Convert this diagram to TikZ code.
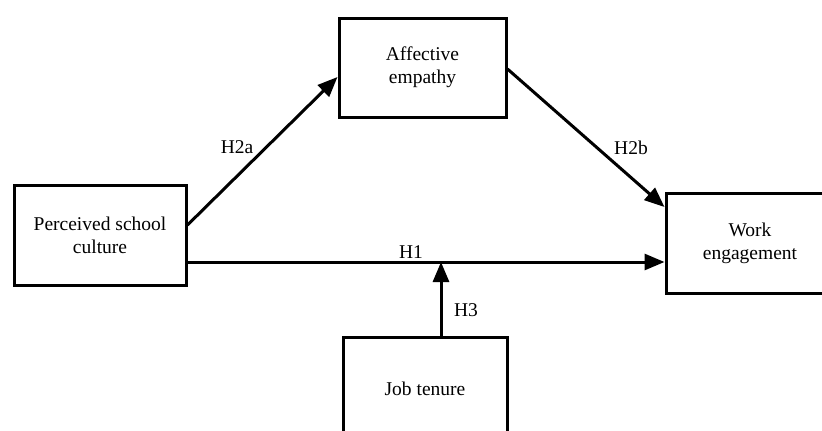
\documentclass[tikz,border=0pt]{standalone}
\usepackage{fontspec}
\setmainfont{Liberation Serif}
\usetikzlibrary{arrows.meta,calc}
\begin{document}
\begin{tikzpicture}[x=1pt,y=-1pt,
  box/.style={draw,line width=3pt,align=center,inner sep=0pt,font=\fontsize{19.5}{23}\selectfont},
  lab/.style={inner sep=0pt,font=\fontsize{19.5}{23}\selectfont},
  arr/.style={line width=3pt,-{Triangle[length=20pt,width=16pt]}}]
\useasboundingbox (0,0) rectangle (822,431);
\node[box,minimum width=172pt,minimum height=100pt] (b1) at (100,235) {Perceived school\\culture};
\node[box,minimum width=167pt,minimum height=99pt] (b2) at (422.5,67.5) {Affective\\empathy};
\node[box,minimum width=168pt,minimum height=100pt] (b3) at (750,243) {Work\\engagement};
\node[box,minimum width=164pt,minimum height=103pt] (b4) at (425,388.5) {Job tenure};
\coordinate (m) at (441,262);
\draw[arr] ($(b1.east)+(0,-10)$) -- ($(b2.west)+(0,9.5)$);
\draw[arr] ($(b2.east)+(0,1.5)$) -- ($(b3.west)+(0,-36)$);
\draw[arr] ($(b1.east)+(0,27)$) -- ($(b3.west)+(0,19)$);
\draw[arr] (b4.north -| m) -- (m);
\node[lab] (h2a) at (237,147) {H2a};
\node[lab] (h2b) at (631,148) {H2b};
\node[lab] (h1) at (411,252) {H1};
\node[lab] (h3) at (466,310) {H3};
\end{tikzpicture}
\end{document}
